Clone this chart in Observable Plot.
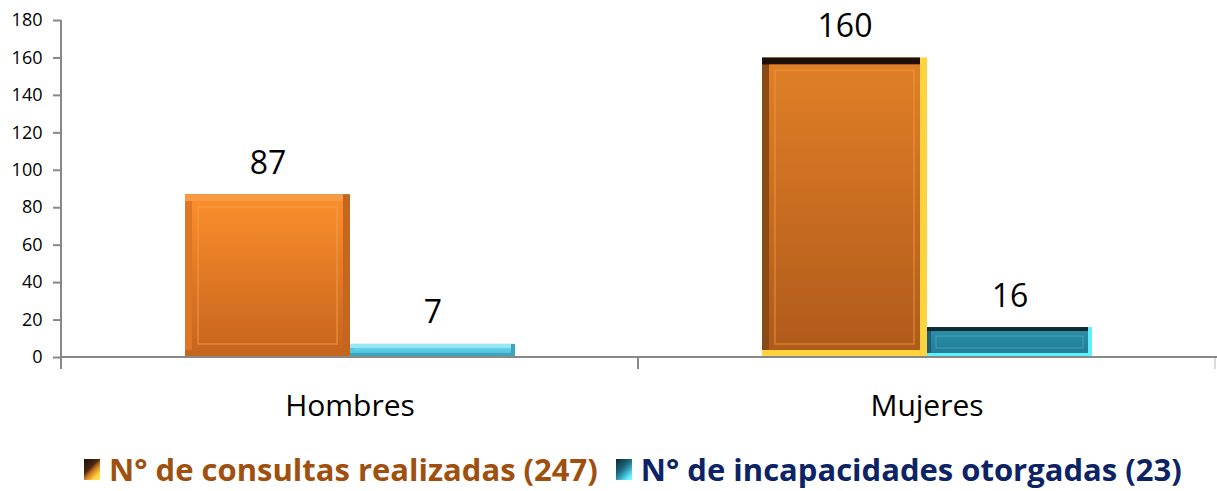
<!DOCTYPE html>
<html>
<head>
<meta charset="utf-8">
<script src="https://cdn.jsdelivr.net/npm/d3@7"></script>
<script src="https://cdn.jsdelivr.net/npm/@observablehq/plot@0.6"></script>
<style>
  html, body { margin: 0; padding: 0; background: #fff; }
  body { width: 1217px; height: 491px; overflow: hidden; font-family: "Open Sans", sans-serif; }
  #legend { display: flex; align-items: center; margin-left: 84px; margin-top: 19px; height: 40px;
    font-family: "Open Sans", sans-serif; font-weight: bold; font-size: 31px; }
  .sw { display: inline-block; width: 16px; height: 21px; margin-right: 9px; }
  .item { display: flex; align-items: center; margin-right: 18px; white-space: nowrap; }
</style>
</head>
<body>
<div id="chart"></div>
<div id="legend"></div>
<script>
// ---- data ----
const categories = ["Hombres", "Mujeres"];
const seriesNames = ["N° de consultas realizadas", "N° de incapacidades otorgadas"];
const consultas = [87, 160];
const incapacidades = [7, 16];
const seriesTotals = [247, 23];
const yTicks = [0, 20, 40, 60, 80, 100, 120, 140, 160, 180];

// ---- styles (kept separate from data) ----
const barStyles = {
  "Hombres|0": {top: "#f99a44", left: "#de7626", br: "#c4661e", faceTop: "#f98e2c", faceBot: "#c8641e", line: "#f7a04c"},
  "Mujeres|0": {top: "#1e1008", left: "#8a4a16", br: "#ffd43e", faceTop: "#e07f27", faceBot: "#b05a1b", line: "#f0a040"},
  "Hombres|1": {top: "#9ae8f6", left: "#58c8e0", br: "#3fa4bc", faceTop: "#64d2ea", faceBot: "#52c2dc", line: "#8ae0f0"},
  "Mujeres|1": {top: "#0e2a34", left: "#1c6274", br: "#5ef0ff", faceTop: "#2b8ca6", faceBot: "#237e98", line: "#4ab0c8"}
};
const legendColors = ["#a0500e", "#0c2466"];

const data = categories.flatMap((c, i) => [
  {cat: c, s: 0, series: seriesNames[0], value: consultas[i]},
  {cat: c, s: 1, series: seriesNames[1], value: incapacidades[i]}
]);
const key = d => `${d.cat}|${d.s}`;
const faceId = d => `face-${d.cat}-${d.s}`;

const common = {fx: "cat", x: "series", y: "value"};

function bevelBars(rows, bev) {
  return [
    Plot.barY(rows, {...common, fill: d => barStyles[key(d)].br}),
    Plot.barY(rows, {...common, fill: d => barStyles[key(d)].top, insetRight: bev, insetBottom: bev}),
    Plot.barY(rows, {...common, fill: d => barStyles[key(d)].left, insetRight: bev, insetBottom: bev, insetTop: bev}),
    Plot.barY(rows, {...common, fill: d => `url(#${faceId(d)})`, inset: bev})
  ];
}

const plot = Plot.plot({
  width: 1217,
  height: 430,
  marginTop: 20,
  marginLeft: 61,
  marginRight: 2,
  marginBottom: 73,
  style: {fontFamily: "Open Sans, sans-serif", color: "#000", background: "#fff"},
  fx: {domain: categories, padding: 0},
  x: {domain: seriesNames, axis: null, paddingInner: 0, paddingOuter: 0.748},
  y: {domain: [0, 180], axis: null},
  color: {type: "identity"},
  marks: [
    ...bevelBars(data.filter(d => d.s === 0), 7),
    ...bevelBars(data.filter(d => d.s === 1), 4),
    // inner frame lines
    Plot.barY(data.filter(d => d.s === 0), {...common, fill: "none", stroke: d => barStyles[key(d)].line, strokeWidth: 1.5, strokeOpacity: 0.55, inset: 13}),
    Plot.barY(data.filter(d => d.s === 1 && d.value > 10), {...common, fill: "none", stroke: d => barStyles[key(d)].line, strokeWidth: 1, strokeOpacity: 0.7, inset: 9}),
    // value labels
    Plot.text(data, {...common, text: d => String(d.value), lineAnchor: "bottom", dy: -21, fontSize: 32, fill: "#000"}),
    Plot.axisY({ticks: yTicks, tickSize: 8, tickPadding: 11, fontSize: 18, stroke: "#888", strokeWidth: 2, fill: "#000", label: null}),
    Plot.axisFx({anchor: "bottom", tickSize: 0, tickPadding: 37, fontSize: 30, label: null, fill: "#000"})
  ]
});

// gradient defs
const svg = d3.select(plot);
const defs = svg.insert("defs", ":first-child");
for (const d of data) {
  const st = barStyles[key(d)];
  const g = defs.append("linearGradient").attr("id", faceId(d))
    .attr("x1", 0).attr("y1", 0).attr("x2", 0).attr("y2", 1);
  g.append("stop").attr("offset", "0%").attr("stop-color", st.faceTop);
  g.append("stop").attr("offset", "100%").attr("stop-color", st.faceBot);
}

// axis lines from scales
const fx = plot.scale("fx"), y = plot.scale("y");
const y0 = y.apply(0), yTop = y.apply(180);
const bw = fx.bandwidth;
const axisG = svg.append("g").attr("stroke", "#888").attr("stroke-width", 2);
const xLeft = fx.apply(categories[0]);
axisG.append("line").attr("x1", xLeft).attr("x2", 1217).attr("y1", y0).attr("y2", y0);
axisG.append("line").attr("x1", xLeft).attr("x2", xLeft).attr("y1", yTop).attr("y2", y0 + 12);
for (const c of categories) {
  const xb = fx.apply(c) + bw;
  axisG.append("line").attr("x1", xb).attr("x2", xb).attr("y1", y0).attr("y2", y0 + 12)
    .attr("stroke-opacity", c === categories[categories.length - 1] ? 0.3 : 1);
}

document.getElementById("chart").appendChild(plot);

// legend
const swatchBg = [
  "linear-gradient(135deg, #1e1008 0%, #4a2810 40%, #c87420 55%, #ffd43e 80%, #ffe860 100%)",
  "linear-gradient(135deg, #0e2a34 0%, #1c6274 40%, #2b8ca6 55%, #5ef0ff 85%, #8ff8ff 100%)"
];
const legend = document.getElementById("legend");
seriesNames.forEach((name, i) => {
  const item = document.createElement("div");
  item.className = "item";
  item.innerHTML = `<span class="sw" style="background:${swatchBg[i]}"></span><span style="color:${legendColors[i]}">${name} (${seriesTotals[i]})</span>`;
  legend.appendChild(item);
});
</script>
</body>
</html>
